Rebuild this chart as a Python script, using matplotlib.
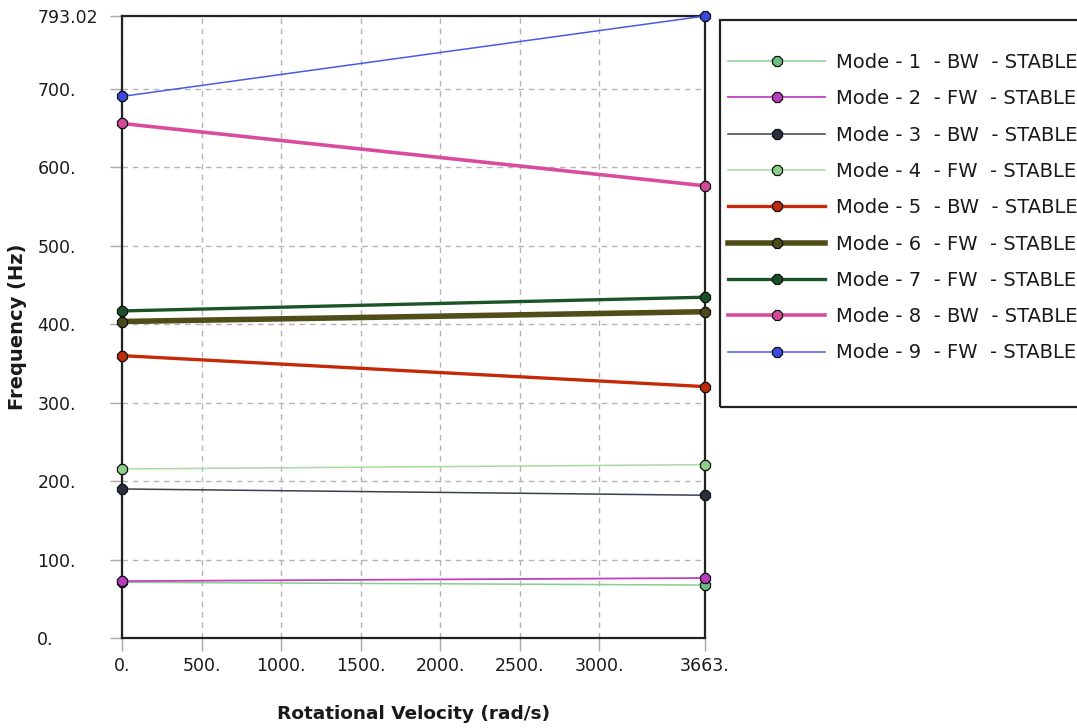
import matplotlib
matplotlib.use("Agg")
import matplotlib.pyplot as plt
from matplotlib.patches import Rectangle

plt.rcParams['font.family'] = ['DejaVu Sans']

speeds = [0.0, 3663.0]
labels = ["Mode - 1  - BW  - STABLE", "Mode - 2  - FW  - STABLE",
          "Mode - 3  - BW  - STABLE", "Mode - 4  - FW  - STABLE",
          "Mode - 5  - BW  - STABLE", "Mode - 6  - FW  - STABLE",
          "Mode - 7  - FW  - STABLE", "Mode - 8  - BW  - STABLE",
          "Mode - 9  - FW  - STABLE"]
mode1 = [71.0, 67.5]
mode2 = [72.5, 76.5]
mode3 = [190.0, 182.0]
mode4 = [215.5, 221.0]
mode5 = [360.0, 320.5]
mode6 = [403.5, 416.0]
mode7 = [417.0, 434.5]
mode8 = [656.0, 576.5]
mode9 = [690.5, 793.02]
modes = [mode1, mode2, mode3, mode4, mode5, mode6, mode7, mode8, mode9]

xticks = [0, 500, 1000, 1500, 2000, 2500, 3000, 3663]
xticklabels = ["0.", "500.", "1000.", "1500.", "2000.", "2500.", "3000.", "3663."]
yticks = [0, 100, 200, 300, 400, 500, 600, 700, 793.02]
yticklabels = ["0.", "100.", "200.", "300.", "400.", "500.", "600.", "700.", "793.02"]

line_colors = ['#86cf8e', '#c23fc4', '#3a3f52', '#a6dca0', '#c42a08',
               '#4f4d18', '#1b5427', '#d94b9e', '#4a5ae8']
marker_colors = ['#6cbf80', '#b83cc0', '#283040', '#8ed08a', '#c02a08',
                 '#4a4a1a', '#1a5028', '#d34a98', '#3a4ae0']
widths = [1.1, 1.3, 1.1, 1.1, 2.4, 4.0, 2.4, 2.6, 1.1]

W, H = 1077, 728
fig = plt.figure(figsize=(W / 100, H / 100), dpi=100)
L, R, T, B = 122, 705, 16, 638
ax = fig.add_axes([L / W, 1 - B / H, (R - L) / W, (B - T) / H])

handles = []
for vals, lc, mc, lw, lab in zip(modes, line_colors, marker_colors, widths, labels):
    ln, = ax.plot(speeds, vals, color=lc, lw=lw, marker='8', markersize=8,
                  markerfacecolor=mc, markeredgecolor='#111111',
                  markeredgewidth=0.9, clip_on=False, zorder=3, label=lab)
    handles.append(ln)

ax.set_xlim(0, 3663)
ax.set_ylim(0, 793.02)
ax.set_xticks(xticks)
ax.set_xticklabels(xticklabels, fontsize=12.5, color='#1a1a1a')
ax.set_yticks(yticks)
ax.set_yticklabels(yticklabels, fontsize=12.5, color='#1a1a1a', ha='left')
ax.tick_params(axis='y', direction='out', length=9, width=1, color='#a8a8a8', pad=52)
ax.tick_params(axis='x', direction='out', length=9, width=1, color='#a8a8a8', pad=4.5)

for s in ax.spines.values():
    s.set_color('#222222')
    s.set_linewidth(1.6)

ax.grid(True, color='#b4b4b4', linestyle=(0, (4, 3.5)), linewidth=1.0)
ax.set_axisbelow(True)

ax.set_xlabel("Rotational Velocity (rad/s)", fontsize=13.3, fontweight='bold',
              color='#1a1a1a', labelpad=22)
ax.set_ylabel("Frequency (Hz)", fontsize=14, fontweight='bold', color='#1a1a1a',
              va='center')
ax.yaxis.set_label_coords(-104 / (R - L), 0.5)

# legend frame
fig.patches.append(Rectangle((720 / W, 1 - 407 / H), 370 / W, 387 / H,
                             transform=fig.transFigure, fill=False,
                             edgecolor='#222222', linewidth=1.6))
leg = fig.legend(handles=handles, loc='upper left',
                 bbox_to_anchor=(728 / W, 1 - 53 / H), frameon=False,
                 fontsize=14, handlelength=5.0, handletextpad=0.55,
                 labelspacing=0.89, borderpad=0, borderaxespad=0)
for t in leg.get_texts():
    t.set_color('#1a1a1a')

fig.savefig("out.png", dpi=100)
